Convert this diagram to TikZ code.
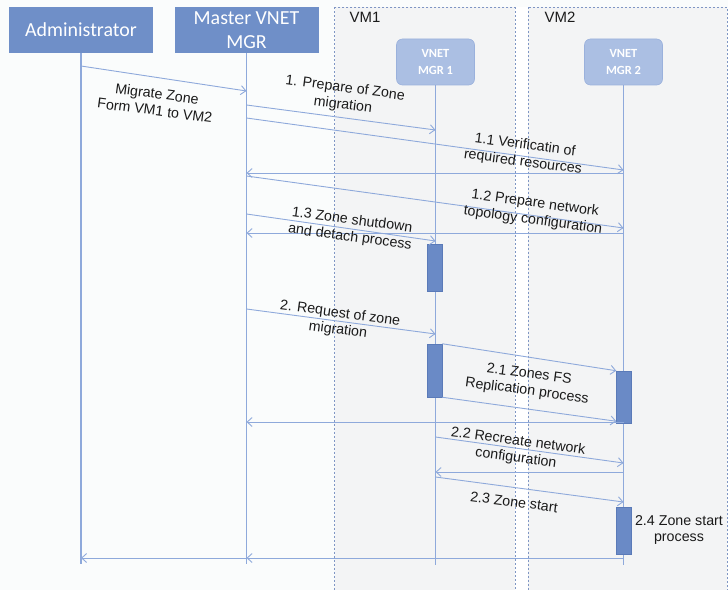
\documentclass[tikz,border=0pt]{standalone}
\usepackage{fontspec}
\setmainfont{Liberation Sans}
\newfontfamily\calfont{Carlito}
\usetikzlibrary{arrows.meta}

\definecolor{paper}{HTML}{FAFCFC}
\definecolor{vmfill}{HTML}{F3F4F5}
\definecolor{vmedge}{HTML}{7F96C4}
\definecolor{actor}{HTML}{6F8FC8}
\definecolor{mgrfill}{HTML}{ABBFE3}
\definecolor{mgredge}{HTML}{9AB1DC}
\definecolor{wire}{HTML}{8EA9DB}
\definecolor{barfill}{HTML}{6A8AC6}
\definecolor{baredge}{HTML}{5A7AB8}
\definecolor{ink}{HTML}{1A1A1A}

\begin{document}
\begin{tikzpicture}[x=1bp,y=-1bp,
  actorbox/.style={fill=actor, text=white, minimum width=144bp, minimum height=46bp,
    inner sep=0, align=center, font=\calfont\fontsize{20}{24}\selectfont},
  mgrbox/.style={fill=mgrfill, draw=mgredge, line width=0.6bp, rounded corners=6bp,
    text=white, minimum width=78bp, minimum height=46bp, inner sep=0, align=center,
    font=\calfont\bfseries\fontsize{12.5}{17}\selectfont},
  vmframe/.style={draw=vmedge, fill=vmfill, line width=0.8bp, dash pattern=on 2bp off 2bp},
  vmlabel/.style={text=ink, inner sep=0, font=\fontsize{15}{18}\selectfont},
  lifeline/.style={draw=wire, line width=1.3bp},
  msg/.style={draw=wire, line width=0.9bp, -{Straight Barb[length=5bp,width=9bp]}},
  actbar/.style={fill=barfill, draw=baredge, line width=0.5bp, minimum width=15bp, inner sep=0},
  lbl/.style={text=ink, font=\fontsize{14.3}{17}\selectfont, align=center, rotate=-7.5, inner sep=0},
  note/.style={text=ink, font=\fontsize{14.3}{17}\selectfont, align=center, inner sep=0},
]
\useasboundingbox (0,0) rectangle (728,590);
\clip (0,0) rectangle (728,590);

% paper and the two VM frames
\fill[paper] (0,0) rectangle (728,590);
\fill[white] (515,7.5) rectangle (528,600);
\path[vmframe] (334.5,7.5) rectangle (515,600);
\path[vmframe] (528,7.5) rectangle (727,600);
\node[vmlabel] (vmA) at (365,17.5) {VM1};
\node[vmlabel] (vmB) at (560,17.5) {VM2};

% participants
\node[actorbox] (admin)  at (81,30)    {Administrator};
\node[actorbox] (master) at (246.5,30) {Master VNET\\MGR};
\node[mgrbox]   (mgrA)   at (435.5,62) {VNET\\MGR 1};
\node[mgrbox]   (mgrB)   at (623.5,62) {VNET\\MGR 2};

% lifelines
\draw[lifeline] (admin.south)  -- (admin.south |- 0,564);
\draw[lifeline] (master.south) -- (master.south |- 0,564);
\draw[lifeline] (mgrA.south)   -- (mgrA.south |- 0,565);
\draw[lifeline] (mgrB.south)   -- (mgrB.south |- 0,565);

% activation bars
\node[actbar, minimum height=47bp] (barA1) at (434.5,267.5) {};
\node[actbar, minimum height=53bp] (barA2) at (434.5,370.5) {};
\node[actbar, minimum height=52bp] (barB1) at (624,397)     {};
\node[actbar, minimum height=47bp] (barB2) at (623.5,530.5) {};

% phase 1 messages
\draw[msg] (admin.south |- 0,66)   -- (master.south |- 0,91);
\draw[msg] (master.south |- 0,105) -- (mgrA.south |- 0,130);
\draw[msg] (master.south |- 0,118) -- (mgrB.south |- 0,170);
\draw[msg] (mgrB.south |- 0,173)   -- (master.south |- 0,173);
\draw[msg] (master.south |- 0,176) -- (mgrB.south |- 0,228);
\draw[msg] (mgrB.south |- 0,233)   -- (master.south |- 0,233);
\draw[msg] (master.south |- 0,214) -- (mgrA.south |- 0,241);

% phase 2 messages
\draw[msg] (master.south |- 0,309) -- (mgrA.south |- 0,334);
\draw[msg] (barA2.north east) -- (barB1.north west);
\draw[msg] (barA2.south east) -- ([yshift=2bp]barB1.south west);
\draw[msg] (mgrB.south |- 0,422)   -- (master.south |- 0,422);
\draw[msg] (mgrA.south |- 0,437)   -- (mgrB.south |- 0,463);
\draw[msg] (mgrB.south |- 0,472)   -- (mgrA.south |- 0,472);
\draw[msg] (mgrA.south |- 0,477)   -- (mgrB.south |- 0,502);
\draw[msg] (mgrB.south |- 0,558)   -- (master.south |- 0,558);
\draw[msg] (master.south |- 0,558) -- (admin.south |- 0,558);

% message labels
\node[lbl] (t0)  at (156,102) {Migrate Zone\\Form VM1 to VM2};
\node[lbl] (t1)  at (344,97)  {1. Prepare of Zone\\migration};
\node[lbl] (t11) at (524,154) {1.1 Verificatin of\\required resources};
\node[lbl] (t12) at (534,212) {1.2 Prepare network\\topology configuration};
\node[lbl] (t13) at (351,229) {1.3 Zone shutdown\\and detach process};
\node[lbl] (t2)  at (339,322) {2. Request of zone\\migration};
\node[lbl] (t21) at (528,383) {2.1 Zones FS\\Replication process};
\node[lbl] (t22) at (517,450) {2.2 Recreate network\\configuration};
\node[lbl] (t23) at (514,502) {2.3 Zone start};
\node[note] (t24) at (679,530) {2.4 Zone start\\process};
\end{tikzpicture}
\end{document}
